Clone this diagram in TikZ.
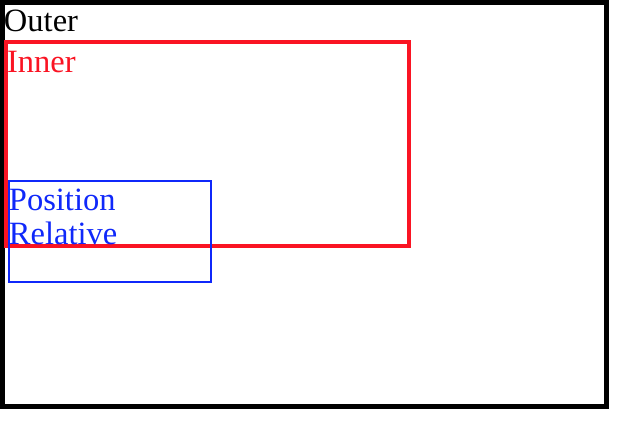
\documentclass[tikz,border=0pt]{standalone}
\usepackage{fontspec}
\setmainfont{Liberation Serif}
\definecolor{boxred}{RGB}{250,20,35}
\definecolor{boxblue}{RGB}{15,40,250}
\begin{document}
\begin{tikzpicture}[x=1pt,y=-1pt,
  box/.style={draw, inner sep=0pt, outer sep=0pt},
  lbl/.style={anchor=base west, inner sep=0pt, outer sep=0pt, font=\fontsize{32.5}{36}\selectfont}]
\useasboundingbox[fill=white] (0,0) rectangle (620,428);
\node[box, line width=5pt, minimum width=604pt, minimum height=404pt] (outer) at (304.5,204.5) {};
\node[box, boxred, line width=4pt, minimum width=403pt, minimum height=204pt] (inner) at (207.5,144) {};
\node[box, boxblue, line width=2pt, minimum width=202pt, minimum height=101pt] (rel) at (110,231.5) {};
\node[lbl] (touter) at (4,31) {Outer};
\node[lbl, text=boxred] (tinner) at (7,72) {Inner};
\node[lbl, text=boxblue] (tpos) at (9,210) {Position};
\node[lbl, text=boxblue] (trel) at (9,244) {Relative};
\end{tikzpicture}
\end{document}
